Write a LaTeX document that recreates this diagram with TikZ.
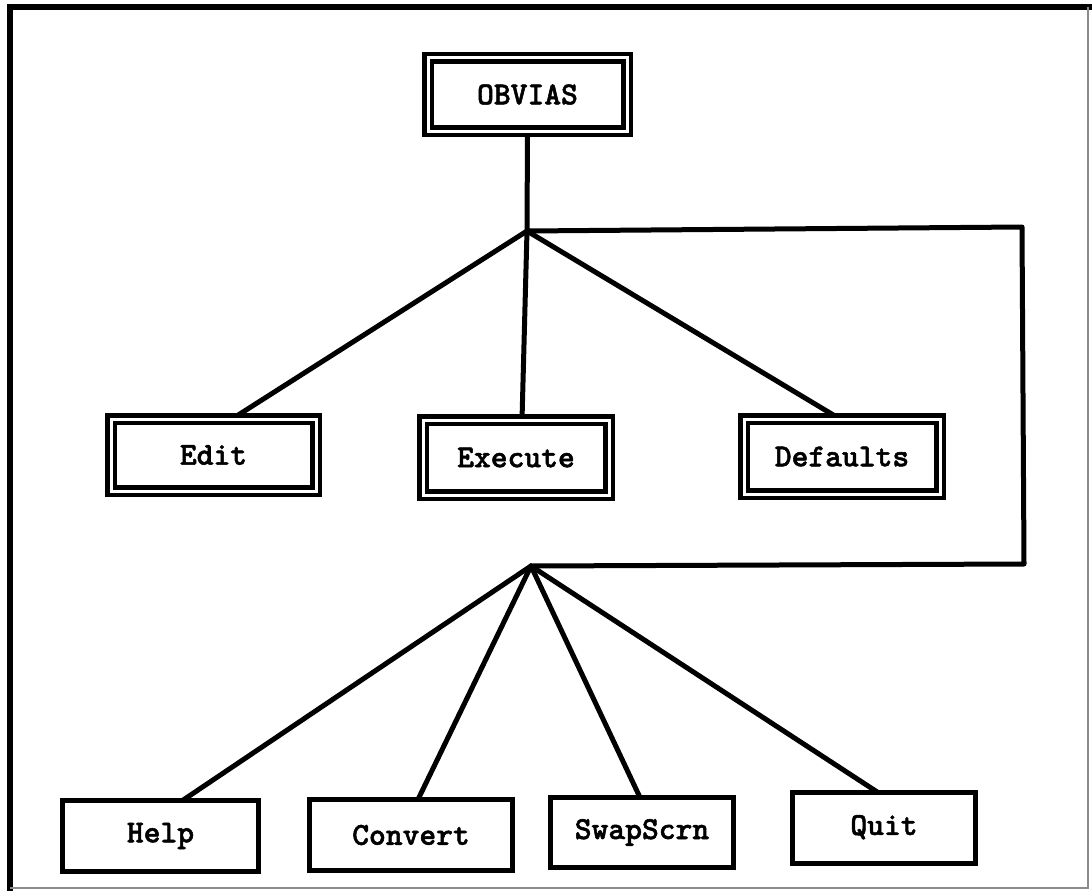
\documentclass[tikz,border=0pt]{standalone}
\usepackage{fontspec}
\newfontfamily\boxfont{lmmonolt10-bold}[Extension=.otf, FakeBold=1.6]
\usetikzlibrary{backgrounds}

\tikzset{
  menubox/.style={rectangle, inner sep=0pt, outer sep=0pt, fill=white,
    font=\boxfont\fontsize{32}{38}\selectfont},
  doublebox/.style={menubox, draw=black, line width=4.5pt, double=white,
    double distance=3pt},
  singlebox/.style={menubox, draw=black, line width=5pt},
  link/.style={draw=black, line width=5pt, line cap=round, line join=round},
}

\begin{document}
\begin{tikzpicture}[x=1pt, y=-1pt]
  \useasboundingbox (0,0) rectangle (1092,891);

  % page frame
  \draw[line width=6pt] (9.5,891) -- (9.5,7) -- (1092,7);
  \draw[line width=1.5pt, black!45] (1088,7) -- (1088,888) -- (9.5,888);

  % top level
  \node[doublebox, minimum width=199pt, minimum height=73pt] (obvias) at (527.5,94.5) {OBVIAS};

  % main menu
  \node[doublebox, minimum width=205pt, minimum height=72pt] (edit) at (213.5,455) {\raisebox{-4pt}{Edit}};
  \node[doublebox, minimum width=186pt, minimum height=75pt] (execute) at (516,457.5) {\raisebox{-2pt}{Execute}};
  \node[doublebox, minimum width=196pt, minimum height=75pt] (defaults) at (842,456.5) {\raisebox{-4pt}{Defaults}};

  % commands available everywhere
  \node[singlebox, minimum width=196pt, minimum height=71pt] (help) at (160.5,836) {Help};
  \node[singlebox, minimum width=203pt, minimum height=71pt] (convert) at (411,835) {Convert};
  \node[singlebox, minimum width=183pt, minimum height=70pt] (swap) at (642,832.5) {SwapScrn};
  \node[singlebox, minimum width=183pt, minimum height=71pt] (quit) at (884,828) {\raisebox{6pt}{Quit}};

  % branch points
  \coordinate (j1) at (527,231);
  \coordinate (j2) at (531,566);
  \coordinate (rt) at (1022,227);
  \coordinate (rb) at (1024,564);

  \begin{scope}[on background layer]
    \draw[link] (obvias.south) -- (j1);
    \draw[link] (j1) -- ([xshift=18.5pt]edit.north);
    \draw[link] (j1) -- ([xshift=6pt]execute.north);
    \draw[link] (j1) -- ([xshift=-2pt]defaults.north);
    \draw[link] (j1) -- (rt) -- (rb) -- (j2);
    \draw[link] (j2) -- ([xshift=22pt]help.north);
    \draw[link] (j2) -- ([xshift=7pt]convert.north);
    \draw[link] (j2) -- ([xshift=-2pt]swap.north);
    \draw[link] (j2) -- ([xshift=-6pt]quit.north);
  \end{scope}
\end{tikzpicture}
\end{document}
